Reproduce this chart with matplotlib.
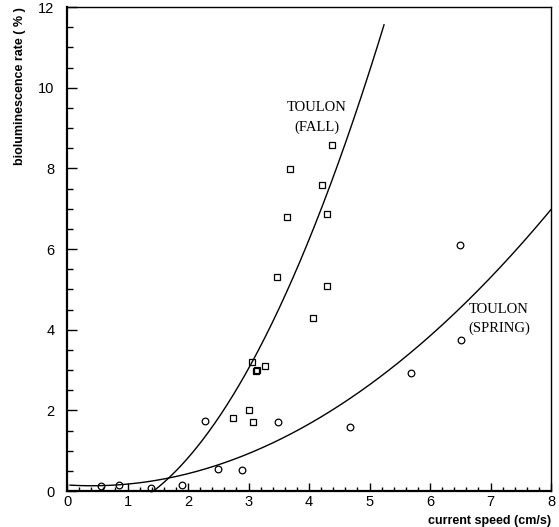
import numpy as np
import matplotlib
matplotlib.use("Agg")
import matplotlib.pyplot as plt
from matplotlib.ticker import MultipleLocator

# measured points
spring_x = [0.56, 0.86, 1.38, 1.90, 2.28, 2.50, 2.89, 3.49, 4.67, 5.69, 6.52, 6.50]
spring_y = [0.12, 0.14, 0.07, 0.14, 1.74, 0.55, 0.52, 1.71, 1.59, 2.93, 3.75, 6.09]

fall_x = [2.75, 3.00, 3.08, 3.06, 3.12, 3.14, 3.28, 4.07, 3.47, 4.30, 3.64, 4.29, 4.22, 3.69, 4.38]
fall_y = [1.80, 2.00, 1.70, 3.19, 2.98, 3.00, 3.09, 4.28, 5.30, 5.09, 6.79, 6.87, 7.58, 7.98, 8.58]

# fitted curves (quadratic)
spring_fit = [0.1189, -0.0976, 0.15]    # a x^2 + b x + c
spring_range = (0.05, 8.0)
fall_x0 = 1.43
fall_fit = [0.491, 1.163]               # a (x-x0)^2 + b (x-x0)
fall_range = (1.43, 5.24)

sans = "Liberation Sans"
serif = "Liberation Serif"

fig = plt.figure(figsize=(5.59, 5.27), dpi=100)
ax = fig.add_axes([0.1199, 0.0683, 0.8658, 0.9184])

xs = np.linspace(spring_range[0], spring_range[1], 300)
ax.plot(xs, np.polyval(spring_fit, xs), color='black', linewidth=1.0)

xf = np.linspace(fall_range[0], fall_range[1], 300)
d = xf - fall_x0
ax.plot(xf, fall_fit[0] * d**2 + fall_fit[1] * d, color='black', linewidth=1.0)

ax.plot(spring_x, spring_y, 'o', markersize=4.8, markerfacecolor='none',
        markeredgecolor='black', markeredgewidth=0.9, clip_on=False)
ax.plot(fall_x, fall_y, 's', markersize=4.5, markerfacecolor='none',
        markeredgecolor='black', markeredgewidth=0.9, clip_on=False)

ax.text(4.13, 9.5, "TOULON", family=serif, fontsize=10.5, ha='center', va='center')
ax.text(4.13, 9.02, "(FALL)", family=serif, fontsize=10.5, ha='center', va='center')
ax.text(7.14, 4.5, "TOULON", family=serif, fontsize=10.5, ha='center', va='center')
ax.text(7.14, 4.03, "(SPRING)", family=serif, fontsize=10.5, ha='center', va='center')

ax.set_xlim(0, 8)
ax.set_ylim(0, 12)
ax.xaxis.set_major_locator(MultipleLocator(1))
ax.xaxis.set_minor_locator(MultipleLocator(0.2))
ax.yaxis.set_major_locator(MultipleLocator(2))
ax.yaxis.set_minor_locator(MultipleLocator(0.5))

ax.tick_params(axis='x', which='major', direction='in', length=6, width=1, pad=3, labelsize=10.5)
ax.tick_params(axis='x', which='minor', direction='in', length=3, width=1)
ax.tick_params(axis='y', which='major', direction='in', length=7, width=1, pad=9, labelsize=10.5)
ax.tick_params(axis='y', which='minor', direction='in', length=4.3, width=1)
for lab in ax.get_xticklabels() + ax.get_yticklabels():
    lab.set_family(sans)

for s in ['left', 'bottom']:
    ax.spines[s].set_linewidth(1.6)
for s in ['top', 'right']:
    ax.spines[s].set_linewidth(1.0)

ax.set_xlabel("current speed (cm/s)", family=sans, fontweight='bold', fontsize=9,
              loc='right', labelpad=4)
ax.set_ylabel("bioluminescence rate ( % )", family=sans, fontweight='bold', fontsize=9,
              loc='top', labelpad=9)

fig.savefig("out.png", dpi=100)
